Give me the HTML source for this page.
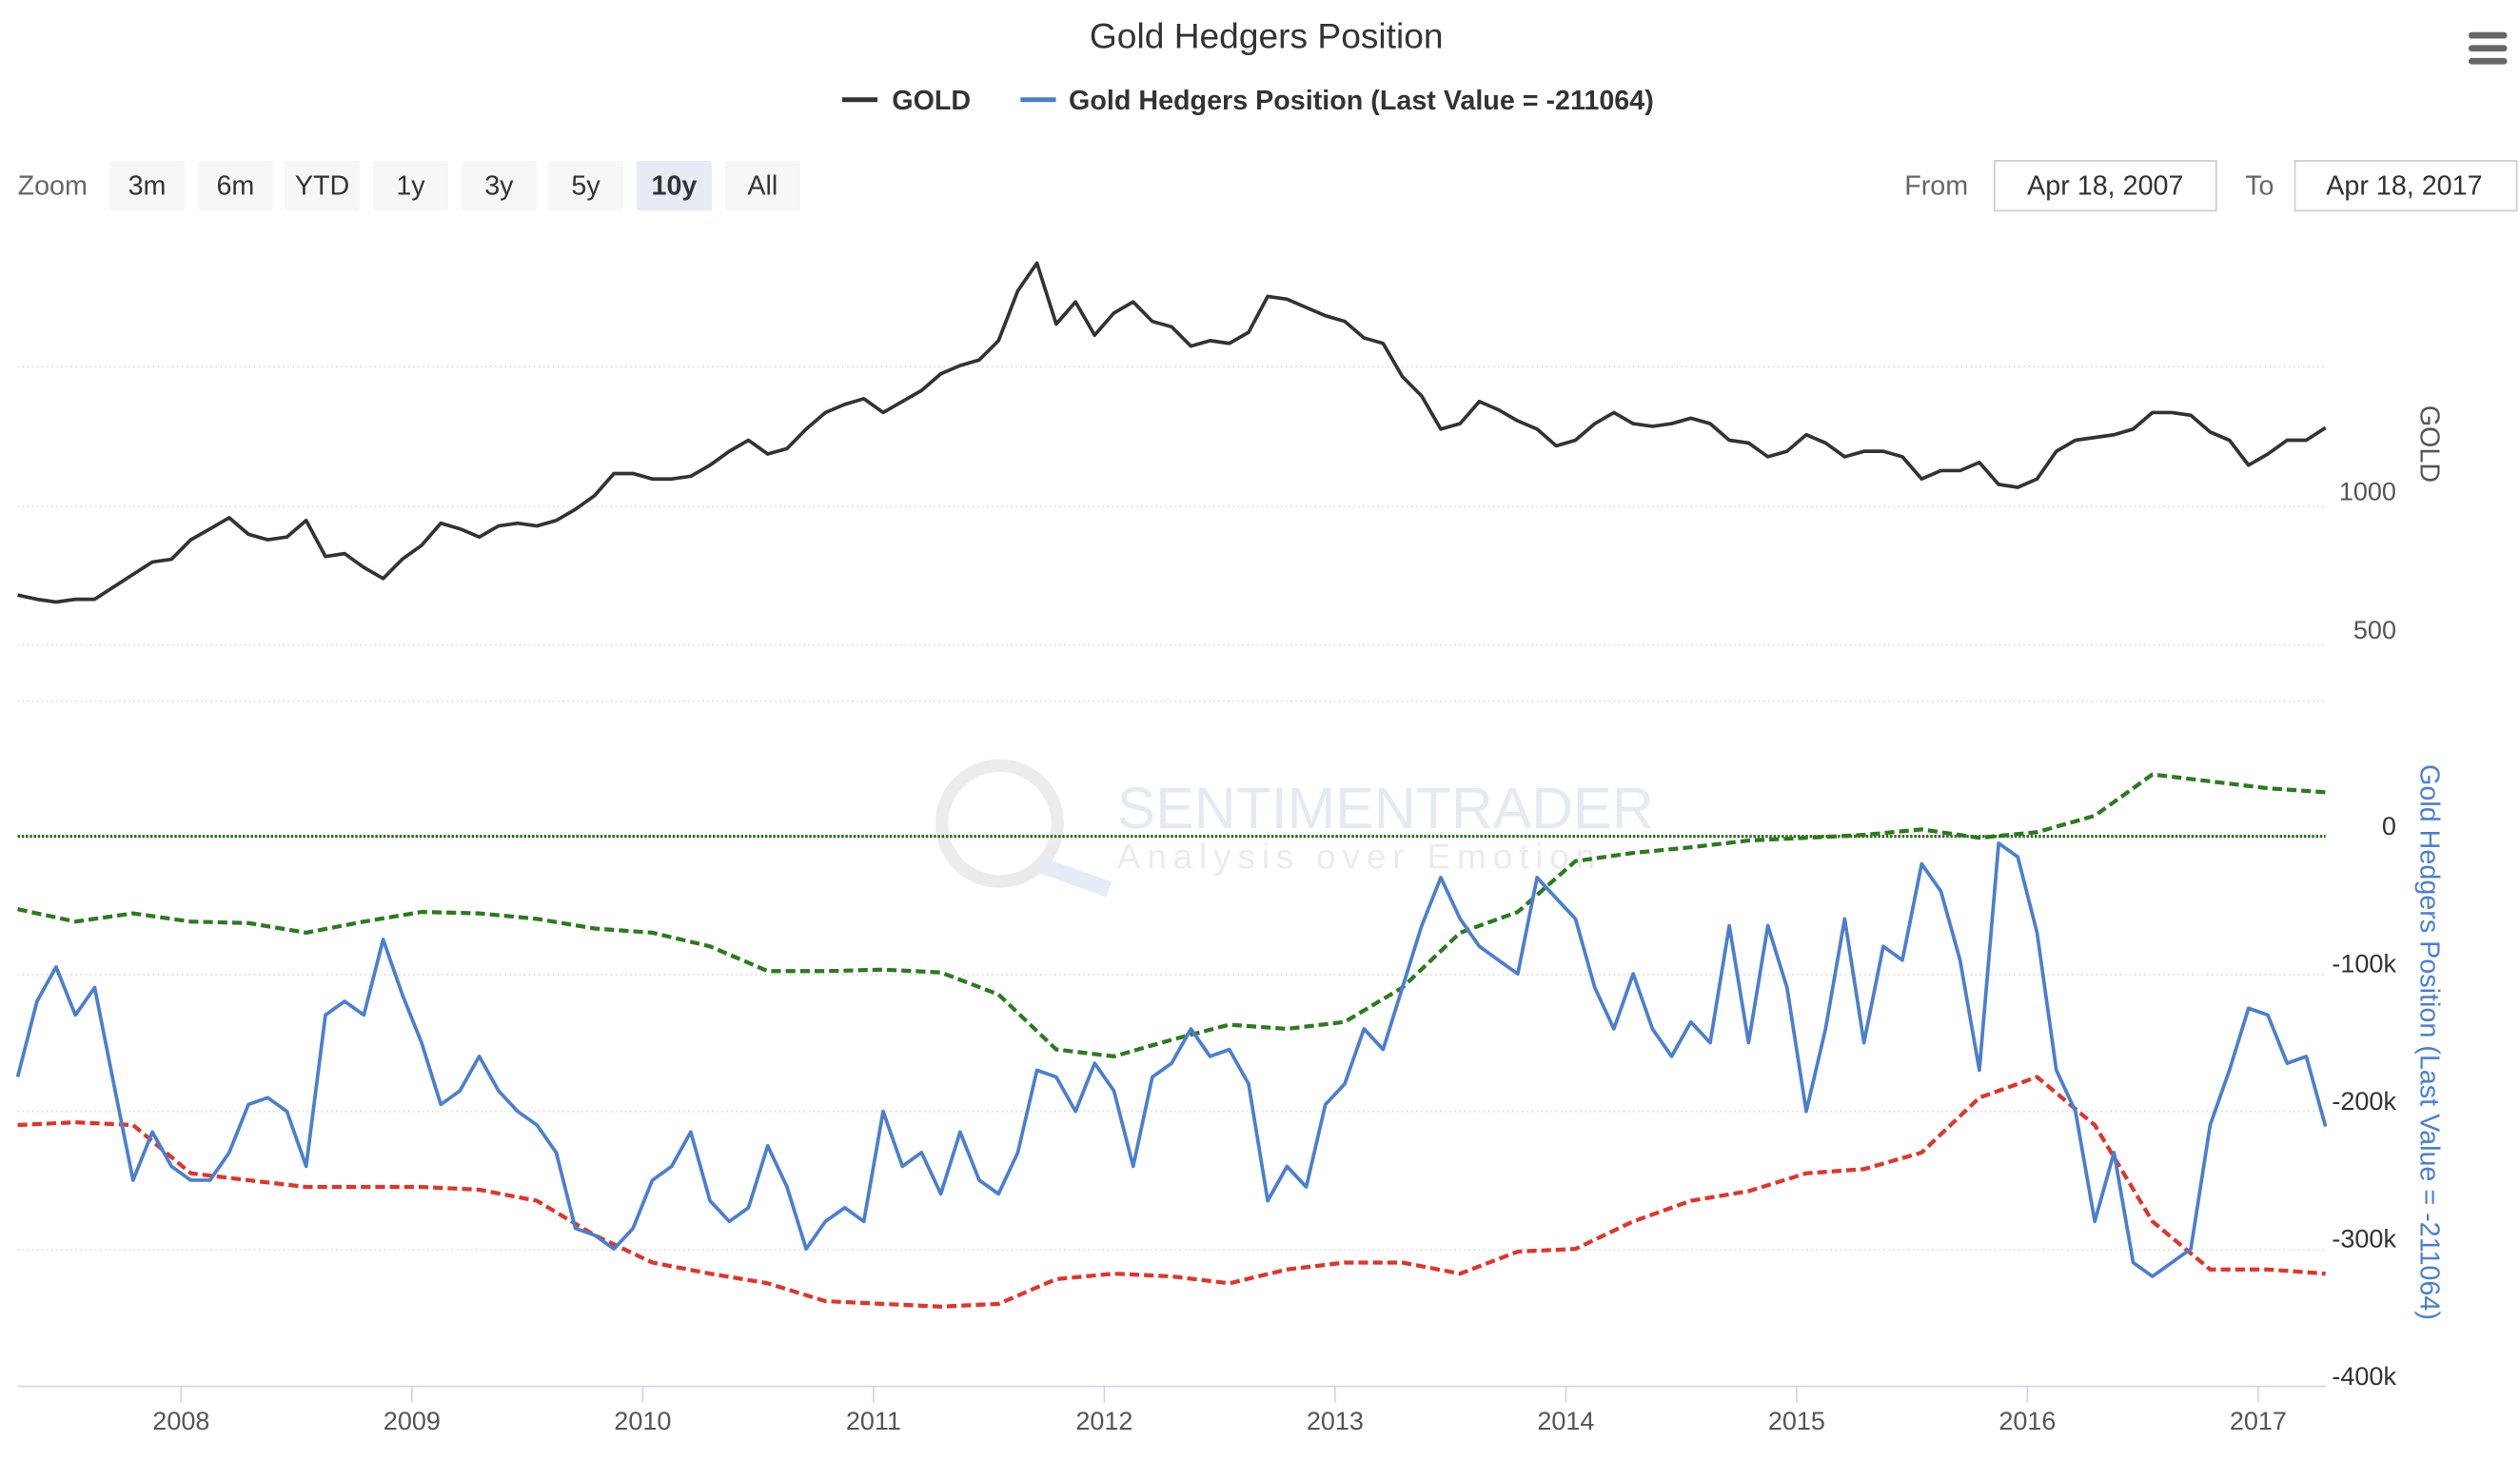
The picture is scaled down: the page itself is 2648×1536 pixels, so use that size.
<!DOCTYPE html>
<html><head><meta charset="utf-8"><style>
html,body{margin:0;padding:0;background:#fff;}
svg{display:block;font-family:"Liberation Sans",sans-serif;}
</style></head><body>
<svg id="chart" width="2648" height="1536" viewBox="0 0 1568 909" preserveAspectRatio="none" xmlns="http://www.w3.org/2000/svg">
<rect width="1568" height="909" fill="#fff"/>
<text x="788" y="30" text-anchor="middle" font-size="22" fill="#333">Gold Hedgers Position</text>
<g fill="#666"><rect x="1536" y="20" width="24" height="4" rx="2"/><rect x="1536" y="28" width="24" height="4" rx="2"/><rect x="1536" y="36" width="24" height="4" rx="2"/></g>
<g><line x1="524" y1="62" x2="546" y2="62" stroke="#333" stroke-width="3"/><text x="555" y="68" font-size="17" font-weight="bold" fill="#333">GOLD</text></g>
<g><line x1="635" y1="62" x2="657" y2="62" stroke="#4a7fd0" stroke-width="3"/><text x="665" y="68" font-size="17" font-weight="bold" fill="#333">Gold Hedgers Position (Last Value = -211064)</text></g>
<text x="11" y="121" font-size="17" fill="#666">Zoom</text>
<g id="zoomBtns"></g>
<text x="1185" y="121" font-size="17" fill="#666">From</text>
<g><rect x="1241" y="100" width="138" height="31" fill="#fff" stroke="#ccc"/><text x="1310" y="121" text-anchor="middle" font-size="17" fill="#333">Apr 18, 2007</text></g>
<text x="1397" y="121" font-size="17" fill="#666">To</text>
<g><rect x="1428" y="100" width="138" height="31" fill="#fff" stroke="#ccc"/><text x="1496" y="121" text-anchor="middle" font-size="17" fill="#333">Apr 18, 2017</text></g>
<g opacity="0.14">
<circle cx="622" cy="512" r="36" fill="none" stroke="#777" stroke-width="8"/>
<line x1="648" y1="538" x2="690" y2="553" stroke="#4a7fd0" stroke-width="10"/>
<text x="695" y="515" font-size="36" fill="#4a6fa0">SENTIMENTRADER</text>
<text x="695" y="540" font-size="22" fill="#777" letter-spacing="4">Analysis over Emotion</text>
</g>
<g id="grid"></g>
<g id="series"></g>
<g id="axes"></g>
</svg>
<script>
const goldPrices=[680,665,655,665,665,710,755,800,810,
880,920,960,900,880,890,950,820,830,780,740,810,
860,940,920,890,930,940,930,950,990,1040,1120,1120,
1100,1100,1110,1150,1200,1240,1190,1210,1280,1340,1370,1390,
1340,1380,1420,1480,1510,1530,1600,1780,1880,1660,1740,1620,
1700,1740,1670,1650,1580,1600,1590,1630,1760,1750,1720,1690,
1670,1610,1590,1470,1400,1280,1300,1380,1350,1310,1280,1220,
1240,1300,1340,1300,1290,1300,1320,1300,1240,1230,1180,1200,
1260,1230,1180,1200,1200,1180,1100,1130,1130,1160,1080,1070,
1100,1200,1240,1250,1260,1280,1340,1340,1330,1270,1240,1150,
1190,1240,1240,1285];
const hedgers=[-175,-120,-95,-130,-110,-180,-250,-215,-240,-250,-250,-230,-195,-190,-200,-240,-130,-120,-130,-75,-115,-150,-195,-185,-160,-185,-200,-210,-230,-285,-290,-300,-285,-250,-240,-215,-265,-280,-270,-225,-255,-300,-280,-270,-280,-200,-240,-230,-260,-215,-250,-260,-230,-170,-175,-200,-165,-185,-240,-175,-165,-140,-160,-155,-180,-265,-240,-255,-195,-180,-140,-155,-110,-65,-30,-60,-80,-90,-100,-30,-45,-60,-110,-140,-100,-140,-160,-135,-150,-65,-150,-65,-110,-200,-140,-60,-150,-80,-90,-20,-40,-90,-170,-5,-15,-70,-170,-200,-280,-230,-310,-320,-310,-300,-210,-170,-125,-130,-165,-160,-211];
const upperBand=[-53,-62,-56,-62,-63,-70,-62,-55,-56,-60,-67,-70,-80,-98,-98,-97,-99,-115,-155,-160,-148,-137,-140,-135,-110,-70,-55,-18,-12,-8,-3,-1,1,5,-1,3,15,45,40,35,32];
const lowerBand=[-210,-208,-210,-245,-250,-255,-255,-255,-257,-265,-290,-310,-318,-325,-338,-340,-342,-340,-322,-318,-320,-325,-315,-310,-310,-318,-302,-300,-280,-265,-258,-245,-242,-230,-190,-175,-210,-280,-315,-315,-318];
const years=["2008","2009","2010","2011","2012","2013","2014","2015","2016","2017"];
const goldTicks=[500,1000];
const hedgeTicks=[0,-100,-200,-300,-400];
const hedgeTickLabels=["0","-100k","-200k","-300k","-400k"];
const zoomLabels=["3m","6m","YTD","1y","3y","5y","10y","All"];

const NS="http://www.w3.org/2000/svg";
function mk(tag,attrs,parent){const e=document.createElementNS(NS,tag);for(const k in attrs)e.setAttribute(k,attrs[k]);parent.appendChild(e);return e;}
const X0=11,X1=1447;
const tStart=2007+3.5/12, tEnd=2017+3.5/12;
function xT(t){return X0+(t-tStart)/(tEnd-tStart)*(X1-X0);}
function yGold(p){return 315-(p-1000)*0.172;}
function yHedge(v){return 520-v*0.855;}
function monthX(i,n){return X0+i/(n-1)*(X1-X0);}

const zb=document.getElementById('zoomBtns');
const zx=[68,123,177,232,287,341,396,451],zw=[47,47,47,47,47,47,47,47];
zoomLabels.forEach((l,i)=>{
 const g=mk('g',{},zb);
 
 
 mk('rect',{x:zx[i],y:100,width:zw[i],height:31,rx:2,fill:l==='10y'?'#e6ebf5':'#f7f7f7'},g);
 const t=mk('text',{x:zx[i]+zw[i]/2,y:121,'text-anchor':'middle','font-size':17,fill:'#333','font-weight':l==='10y'?'bold':'normal'},g);
 t.textContent=l;
});

const grid=document.getElementById('grid');
[228,315,401,436,606,691,777].forEach(y=>{
 const l=mk('line',{x1:X0,x2:X1,y1:y,y2:y,stroke:'#ddd','stroke-width':1,'stroke-dasharray':'1,2'},grid);
 
 
});

const axes=document.getElementById('axes');
const xa=mk('line',{x1:X0,x2:X1,y1:862,y2:862,stroke:'#ccd6eb','stroke-width':1},axes);


years.forEach(y=>{
 const x=xT(+y);
 mk('line',{x1:x,x2:x,y1:862,y2:872,stroke:'#ccd6eb'},axes);
 const t=mk('text',{x:x,y:889,'text-anchor':'middle','font-size':16,fill:'#555'},axes);
 
 
 t.textContent=y;
});
goldTicks.forEach(v=>{
 const t=mk('text',{x:1491,y:yGold(v)-4,'text-anchor':'end','font-size':16,fill:'#555'},axes);
 
 
 t.textContent=v;
});
hedgeTicks.forEach((v,i)=>{
 const t=mk('text',{x:1491,y:yHedge(v*1)-1,'text-anchor':'end','font-size':16,fill:'#333'},axes);
 
 
 t.textContent=hedgeTickLabels[i];
});
const gt=mk('text',{x:0,y:0,'font-size':17,fill:'#555','text-anchor':'middle',transform:'translate(1506,276) rotate(90)'},axes);


gt.textContent='GOLD';
const ht=mk('text',{x:0,y:0,'font-size':17,fill:'#4a7fd0','text-anchor':'middle',transform:'translate(1506,648) rotate(90)'},axes);


ht.textContent='Gold Hedgers Position (Last Value = -211064)';

const S=document.getElementById('series');
const zl=mk('line',{x1:X0,x2:X1,y1:yHedge(0),y2:yHedge(0),stroke:'#2d6a1e','stroke-width':1.8,'stroke-dasharray':'1.5,1'},S);


function path(arr,yf,attrs,name){
 const d=arr.map((v,i)=>(i?'L':'M')+monthX(i,arr.length).toFixed(1)+','+yf(v).toFixed(1)).join('');
 const p=mk('path',Object.assign({d:d,fill:'none','stroke-linejoin':'round'},attrs),S);
 
 
}
path(upperBand,yHedge,{stroke:'#2d7a1f','stroke-width':2.5,'stroke-dasharray':'6,3'},'upper-band-line');
path(lowerBand,yHedge,{stroke:'#e0352b','stroke-width':2.5,'stroke-dasharray':'6,3'},'lower-band-line');
path(hedgers,yHedge,{stroke:'#4a7fd0','stroke-width':2.2},'hedgers-line');
path(goldPrices,yGold,{stroke:'#333','stroke-width':2.2},'gold-line');
</script>
</body></html>
